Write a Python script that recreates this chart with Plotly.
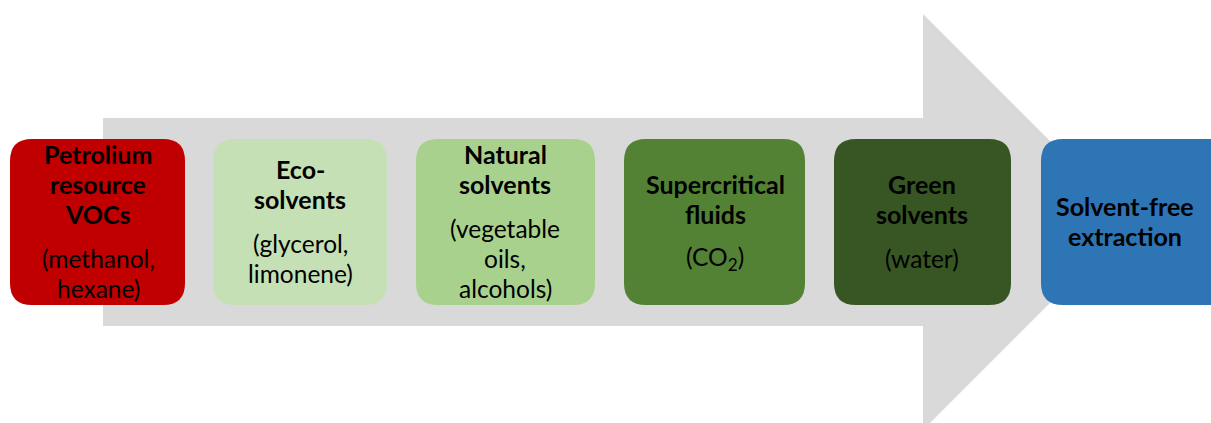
import plotly.graph_objects as go

# ---- data ----
titles = [
    ["Petrolium", "resource", "VOCs"],
    ["Eco-", "solvents"],
    ["Natural", "solvents"],
    ["Supercritical", "fluids"],
    ["Green", "solvents"],
    ["Solvent-free", "extraction"],
]
subtitles = [
    ["(methanol,", "hexane)"],
    ["(glycerol,", "limonene)"],
    ["(vegetable", "oils,", "alcohols)"],
    ["(CO<sub>2</sub>)"],
    ["(water)"],
    [],
]
box_colors = ["#C00000", "#C5E0B4", "#A9D18E", "#548235", "#375623", "#2E75B6"]
box_left = [10, 213, 416, 624, 834, 1041]
box_right = [185, 387, 595, 805, 1011, 1240]
text_x = [98, 300, 505, 715, 922, 1125]

W, H = 1211, 423
BOX_TOP, BOX_BOT = 139, 305
RADIUS = 22
LINE = 30
GAP = 14
FONT = "Lato, 'Open Sans', sans-serif"
FS_B = 25
FS_R = 24.5

fig = go.Figure()

# Arrow
shaft_l, shaft_r, shaft_t, shaft_b = 103, 923, 118, 326
head_t, head_b, tip_x = 14, 430, 1131
tip_y = (head_t + head_b) / 2
arrow_path = (f"M {shaft_l} {shaft_t} L {shaft_r} {shaft_t} L {shaft_r} {head_t} "
              f"L {tip_x} {tip_y} L {shaft_r} {head_b} L {shaft_r} {shaft_b} "
              f"L {shaft_l} {shaft_b} Z")
shapes = [dict(type="path", path=arrow_path, fillcolor="#D9D9D9", line=dict(width=0),
               xref="x", yref="y", layer="below")]


def rounded(x0, y0, x1, y1, r):
    return (f"M {x0+r} {y0} L {x1-r} {y0} Q {x1} {y0} {x1} {y0+r} "
            f"L {x1} {y1-r} Q {x1} {y1} {x1-r} {y1} L {x0+r} {y1} "
            f"Q {x0} {y1} {x0} {y1-r} L {x0} {y0+r} Q {x0} {y0} {x0+r} {y0} Z")


annotations = []
for i in range(len(titles)):
    x0, x1 = box_left[i], box_right[i]
    shapes.append(dict(type="path", path=rounded(x0, BOX_TOP, x1, BOX_BOT, RADIUS),
                       fillcolor=box_colors[i], line=dict(width=0), xref="x", yref="y",
                       layer="below"))
    cx = text_x[i]
    lines = [(t, True) for t in titles[i]] + [(s, False) for s in subtitles[i]]
    n = len(lines)
    total = (n - 1) * LINE + (GAP if subtitles[i] else 0)
    y = 221 - total / 2
    for j, (txt, bold) in enumerate(lines):
        if j > 0 and not bold and lines[j - 1][1]:
            y += GAP
        annotations.append(dict(
            x=cx, y=y, xref="x", yref="y", text=f"<b>{txt}</b>" if bold else txt,
            showarrow=False, xanchor="center", yanchor="middle",
            font=dict(family=FONT, size=FS_B if bold else FS_R, color="#000000")))
        y += LINE

fig.update_layout(
    width=W, height=H, margin=dict(l=0, r=0, t=0, b=0),
    paper_bgcolor="white", plot_bgcolor="white",
    xaxis=dict(range=[0, W], visible=False, fixedrange=True),
    yaxis=dict(range=[H, 0], visible=False, fixedrange=True),
    shapes=shapes, annotations=annotations, showlegend=False,
)
fig.write_html("out.html", config={"displayModeBar": False},
               post_script="document.body.style.margin='0';document.body.style.overflow='hidden';")
